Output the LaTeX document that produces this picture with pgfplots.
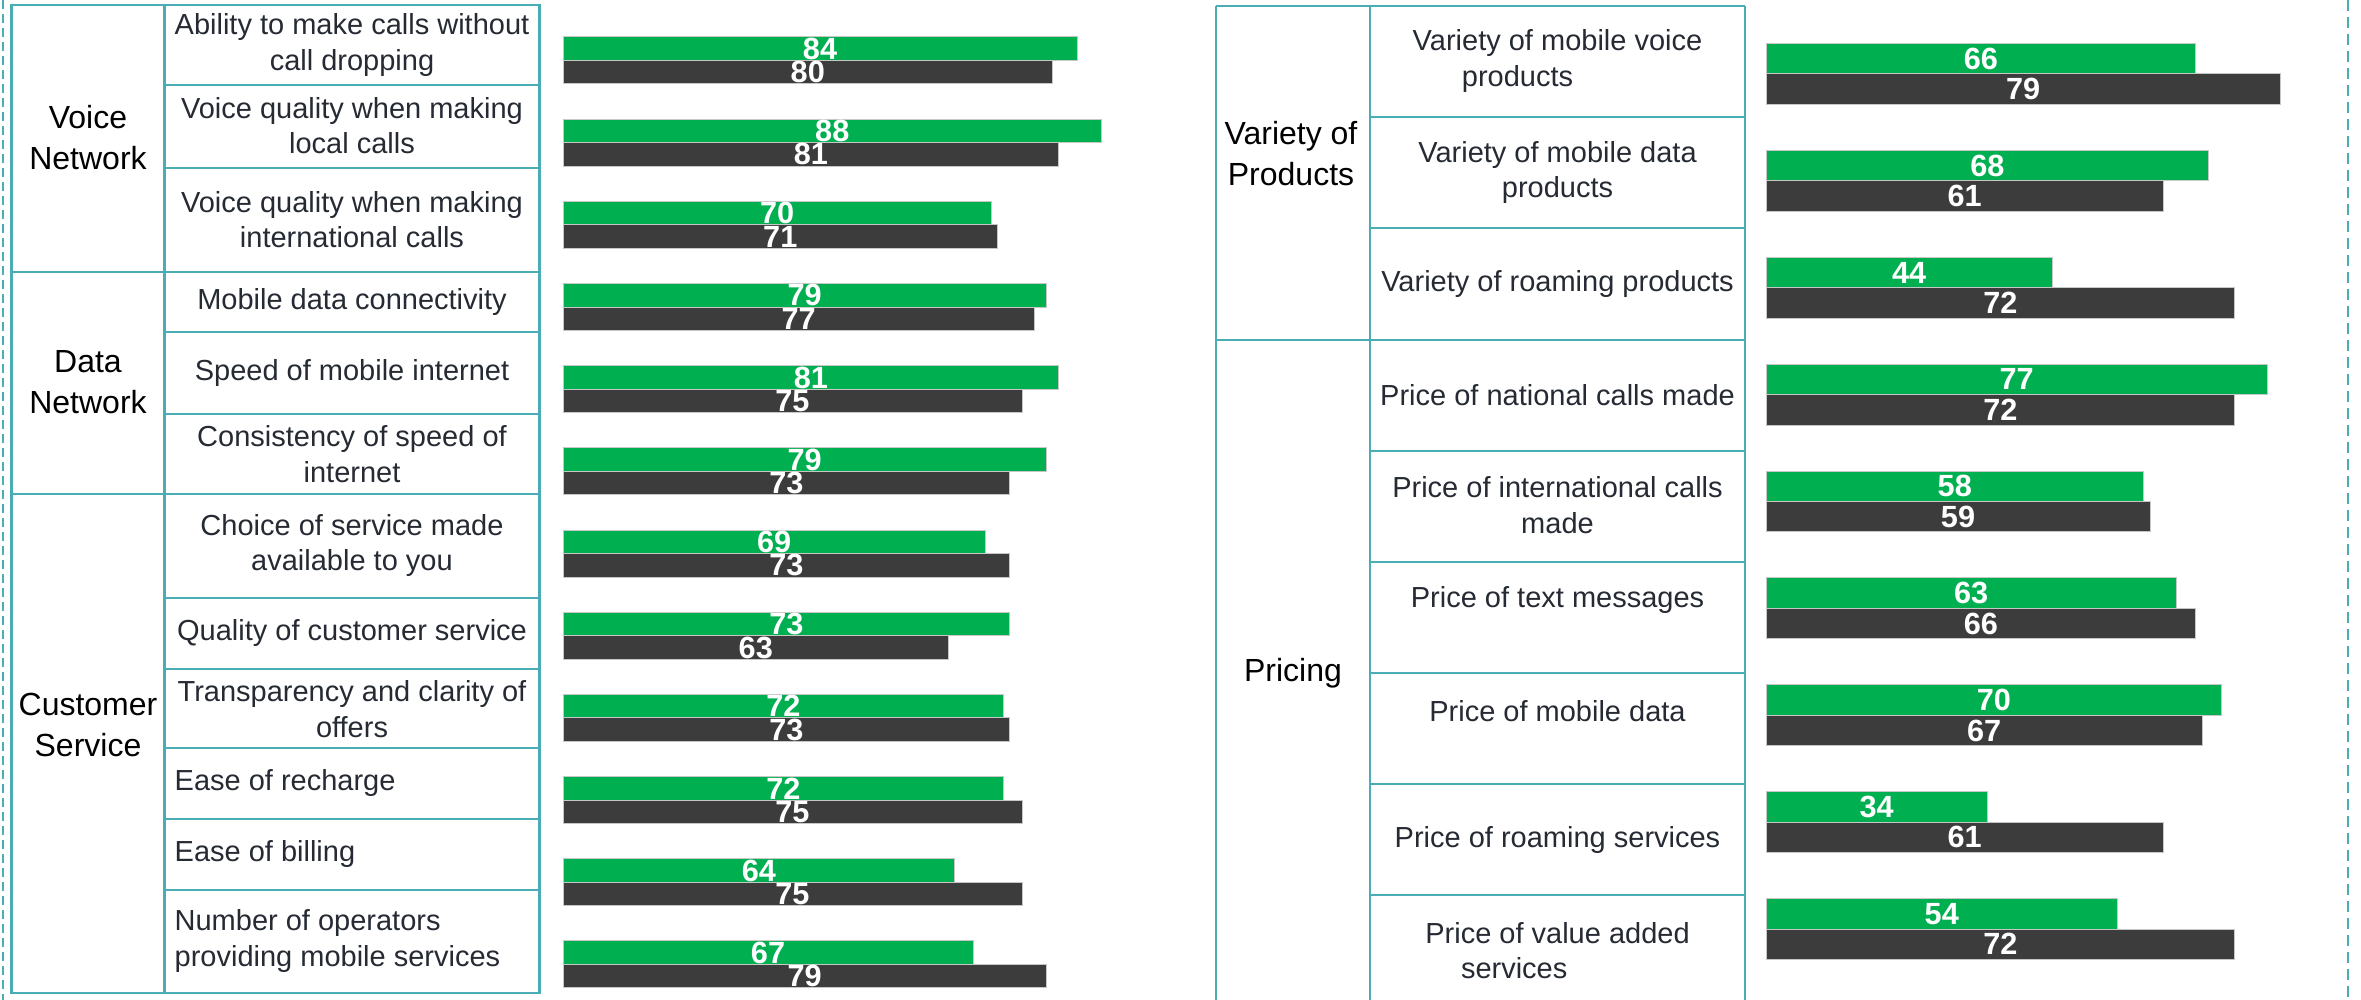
\documentclass[border=0pt]{standalone}
\usepackage{pgfplots}
\pgfplotsset{compat=1.18}
\usepackage{pgfplotstable}
\usepackage{fontspec}
\setmainfont{Liberation Sans}
\definecolor{tborder}{HTML}{4AACB4}
\definecolor{gbar}{HTML}{00B050}
\definecolor{dbar}{HTML}{3C3C3C}
\definecolor{ltxt}{HTML}{252A33}

\pgfplotstableread{
y g d
11 84 80
10 88 81
9 70 71
8 79 77
7 81 75
6 79 73
5 69 73
4 73 63
3 72 73
2 72 75
1 64 75
0 67 79
}\lefttab

\pgfplotstableread{
y g d
8 66 79
7 68 61
6 44 72
5 77 72
4 58 59
3 63 66
2 70 67
1 34 61
0 54 72
}\righttab

\pgfplotsset{
  barlab/.style={draw=none, nodes near coords={\pgfplotspointmeta}, point meta=explicit symbolic,
    every node near coord/.style={anchor=center, text=white, inner sep=0pt,
      font=\fontsize{9.2}{9.2}\selectfont\bfseries}},
  gstyle/.style={xbar, fill=gbar, draw=black!22, line width=0.3pt},
  dstyle/.style={xbar, fill=dbar, draw=black!22, line width=0.3pt},
}

\begin{document}
\begin{tikzpicture}[x=0.3pt, y=0.3pt,
  rowlab/.style={align=center, inner sep=0pt, text=ltxt, font=\fontsize{8.7}{10.6}\selectfont},
  rowlabl/.style={align=left, inner sep=0pt, text=ltxt, anchor=west, font=\fontsize{8.7}{10.6}\selectfont},
  grplab/.style={align=center, inner sep=0pt, text=black, font=\fontsize{9.6}{12.3}\selectfont},
  tline/.style={draw=tborder, line width=0.75pt}]
\path[use as bounding box] (0,0) rectangle (2361,1000);

% dashed frame lines
\draw[tborder, line width=0.75pt, dash pattern=on 2.7pt off 1.5pt] (3,1000) -- (3,0);
\draw[tborder, line width=0.75pt, dash pattern=on 3.3pt off 1.8pt] (2348,1000) -- (2348,0);

% ---------- left table ----------
\draw[tline] (11.5,995) rectangle (539.6,7);
\draw[tline] (164.6,995) -- (164.6,7);
\foreach \yy in {728,506} \draw[tline] (11.5,\yy) -- (539.6,\yy);
\foreach \yy in {915,832,668,586,402,331,252,181,110} \draw[tline] (164.6,\yy) -- (539.6,\yy);

\node[grplab] at (88,862) {Voice\\Network};
\node[grplab] at (88,617.5) {Data\\Network};
\node[grplab] at (88,275) {Customer\\Service};

\node[rowlab] at (352,955) {Ability to make calls without\\call dropping};
\node[rowlab] at (352,874.5) {Voice quality when making\\local calls};
\node[rowlab] at (352,780.5) {Voice quality when making\\international calls};
\node[rowlab] at (352,698) {Mobile data connectivity};
\node[rowlab] at (352,627) {Speed of mobile internet};
\node[rowlab] at (352,546) {Consistency of speed of\\internet};
\node[rowlab] at (352,454.5) {Choice of service made\\available to you};
\node[rowlab] at (352,366.5) {Quality of customer service};
\node[rowlab] at (352,291) {Transparency and clarity of\\offers};
\node[rowlabl] at (174,216.5) {Ease of recharge};
\node[rowlabl] at (174,145.5) {Ease of billing};
\node[rowlabl] at (174,59) {Number of operators\\providing mobile services};

% ---------- right table ----------
\draw[tline] (1216,994) -- (1745,994);
\draw[tline] (1216,660) -- (1745,660);
\foreach \xx in {1216,1370,1745} \draw[tline] (\xx,994) -- (\xx,-5);
\foreach \yy in {883,772,549,438,327,216,105} \draw[tline] (1370,\yy) -- (1745,\yy);

\node[grplab] at (1291,846) {Variety of\\Products};
\node[grplab] at (1293,327) {Pricing};

\node[rowlab] at (1557.5,939) {Variety of mobile voice\\products\hspace*{24pt}};
\node[rowlab] at (1557.5,827.5) {Variety of mobile data\\products};
\node[rowlab] at (1557.5,716) {Variety of roaming products};
\node[rowlab] at (1557.5,605) {Price of national calls made};
\node[rowlab] at (1557.5,495) {Price of international calls\\made};
\node[rowlab] at (1557.5,400) {Price of text messages};
\node[rowlab] at (1557.5,289) {Price of mobile data};
\node[rowlab] at (1557.5,160) {Price of roaming services};
\node[rowlab] at (1557.5,49.5) {Price of value added\\services\hspace*{26pt}};

% ---------- left bars ----------
\begin{axis}[at={(168.9pt,0pt)}, anchor=south west, scale only axis,
  width=183.6pt, height=300pt, xmin=0, xmax=100, ymin=-0.432, ymax=11.736,
  hide axis, clip=false, bar width=0.286]
\addplot[gstyle, bar shift=0.143] table[x=g, y=y]{\lefttab};
\addplot[dstyle, bar shift=-0.143] table[x=d, y=y]{\lefttab};
\addplot[barlab] table[x expr=\thisrow{g}/2, y expr=\thisrow{y}+0.143, meta=g]{\lefttab};
\addplot[barlab] table[x expr=\thisrow{d}/2, y expr=\thisrow{y}-0.143, meta=d]{\lefttab};
\end{axis}

% ---------- right bars ----------
\begin{axis}[at={(529.8pt,0pt)}, anchor=south west, scale only axis,
  width=156.24pt, height=300pt, xmin=0, xmax=80, ymin=-0.664, ymax=8.692,
  hide axis, clip=false, bar width=0.285]
\addplot[gstyle, bar shift=0.1425] table[x=g, y=y]{\righttab};
\addplot[dstyle, bar shift=-0.1425] table[x=d, y=y]{\righttab};
\addplot[barlab] table[x expr=\thisrow{g}/2, y expr=\thisrow{y}+0.1425, meta=g]{\righttab};
\addplot[barlab] table[x expr=\thisrow{d}/2, y expr=\thisrow{y}-0.1425, meta=d]{\righttab};
\end{axis}
\end{tikzpicture}
\end{document}
